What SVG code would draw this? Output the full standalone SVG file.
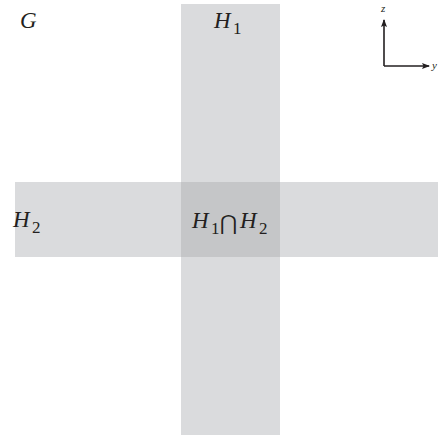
<svg xmlns="http://www.w3.org/2000/svg" width="438" height="439" viewBox="0 0 438 439">
<style>
.lbl{font-family:"Liberation Serif","Times New Roman",serif;font-style:italic;font-size:23px;fill:#231f20}
.sub{font-family:"Liberation Serif","Times New Roman",serif;font-style:normal;font-size:17px;fill:#231f20}
.cap{font-family:"DejaVu Sans",serif;font-style:normal;font-size:21px;fill:#231f20}
.ax{font-family:"Liberation Serif",serif;font-style:italic;font-size:11px;fill:#231f20}
.band{fill:#dadbdd}
</style>
<defs>
<marker id="ah" markerWidth="8" markerHeight="6" refX="7" refY="3" orient="auto" markerUnits="userSpaceOnUse">
<path d="M0,0 L8,3 L0,6 L1.5,3 Z" fill="#231f20"/>
</marker>
</defs>
<rect width="438" height="439" fill="#fff"/>
<g id="H1"><rect class="band" x="181" y="4" width="99" height="431"/></g>
<g id="H2"><rect class="band" x="15" y="182" width="423" height="75"/></g>
<g id="H1H2"><rect x="181" y="182" width="99" height="75" fill="#c5c6c8"/></g>
<text class="lbl" x="20" y="28">G</text>
<text class="lbl" x="214" y="28">H</text><text class="sub" x="233" y="34">1</text>
<text class="lbl" x="13" y="227">H</text><text class="sub" x="32" y="233">2</text>
<text class="lbl" x="192" y="228">H</text><text class="sub" x="211" y="234">1</text>
<text class="cap" x="220" y="230">⋂</text>
<text class="lbl" x="240" y="228">H</text><text class="sub" x="259" y="234">2</text>
<g id="axes" stroke="#231f20" stroke-width="1.6" fill="none">
<line x1="384" y1="66" x2="384" y2="20" marker-end="url(#ah)"/>
<line x1="384" y1="66" x2="429" y2="66" marker-end="url(#ah)"/>
</g>
<text class="ax" x="381" y="12">z</text>
<text class="ax" x="432" y="69">y</text>
</svg>
